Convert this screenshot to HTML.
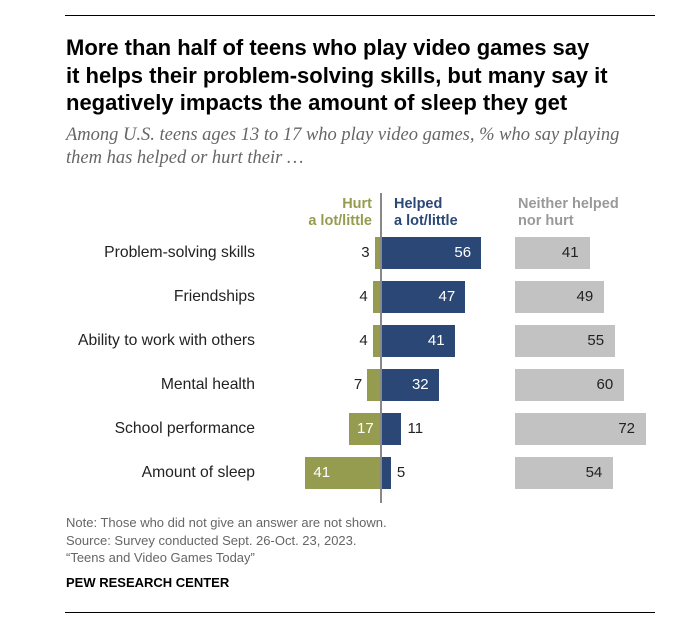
<!DOCTYPE html><html><head><style>
body{margin:0;width:690px;height:636px;background:#fff;position:relative;font-family:"Liberation Sans",sans-serif;overflow:hidden}
.a{position:absolute;white-space:nowrap}
.t{left:66px;font-weight:bold;font-size:22px;color:#000;line-height:27.5px;top:34px}
.s{left:66px;top:124px;font-style:italic;font-size:18.5px;color:#666;line-height:23px;font-family:"Liberation Serif",serif}
.l{right:435px;font-size:15.7px;color:#222;transform:translateY(-50%)}
.b{position:absolute;height:32px;font-size:15px;line-height:32px}
.n{font-size:13px;color:#666;left:66px}
</style></head><body>
<div class="a" style="left:65px;top:15px;width:590px;height:1px;background:#000"></div>
<div class="a" style="left:65px;top:612px;width:590px;height:1px;background:#000"></div>
<div class="a t">More than half of teens who play video games say<br>it helps their problem-solving skills, but many say it<br>negatively impacts the amount of sleep they get</div>
<div class="a s">Among U.S. teens ages 13 to 17 who play video games, % who say playing<br>them has helped or hurt their …</div>
<div class="a" style="right:318px;top:196px;text-align:right;font-weight:bold;font-size:14.5px;color:#959c50;line-height:17px">Hurt<br>a lot/little</div>
<div class="a" style="left:394px;top:196px;font-weight:bold;font-size:14.5px;color:#2a4775;line-height:17px">Helped<br>a lot/little</div>
<div class="a" style="left:518px;top:196px;font-weight:bold;font-size:14.5px;color:#999;line-height:17px">Neither helped<br>nor hurt</div>
<div class="a" style="left:380px;top:193px;width:2px;height:310px;background:#888;z-index:2"></div>
<div id="c"></div>
<div class="a n" style="top:514px;line-height:17.5px">Note: Those who did not give an answer are not shown.<br>Source: Survey conducted Sept. 26-Oct. 23, 2023.<br>“Teens and Video Games Today”</div>
<div class="a" style="left:66px;top:575px;font-weight:bold;font-size:13px;color:#000">PEW RESEARCH CENTER</div>
<script>
var d=[["Problem-solving skills",3,56,41],["Friendships",4,47,49],["Ability to work with others",4,41,55],["Mental health",7,32,60],["School performance",17,11,72],["Amount of sleep",41,5,54]];
var h="";d.forEach(function(r,i){var y=253+i*44,top=y-16;
h+='<div class="a l" style="top:'+y+'px">'+r[0]+'</div>';
var hw=r[1]*1.82;h+='<div class="b" style="left:'+(380-hw)+'px;top:'+top+'px;width:'+hw+'px;background:#959c50"></div>';
if(r[1]>10)h+='<div class="b" style="left:'+(380-hw+8)+'px;top:'+top+'px;color:#fff">'+r[1]+'</div>';
else h+='<div class="b" style="right:'+(690-380+hw+5)+'px;top:'+top+'px;color:#222">'+r[1]+'</div>';
var pw=r[2]*1.77;h+='<div class="b" style="left:382px;top:'+top+'px;width:'+pw+'px;background:#2a4775"></div>';
if(r[2]>20)h+='<div class="b" style="left:382px;top:'+top+'px;width:'+(pw-10)+'px;color:#fff;text-align:right">'+r[2]+'</div>';
else h+='<div class="b" style="left:'+(382+pw+6)+'px;top:'+top+'px;color:#222">'+r[2]+'</div>';
var gw=r[3]*1.82;h+='<div class="b" style="left:515px;top:'+top+'px;width:'+gw+'px;background:#c2c2c2"></div>';
h+='<div class="b" style="left:515px;top:'+top+'px;width:'+(gw-11)+'px;color:#222;text-align:right">'+r[3]+'</div>';
});document.getElementById("c").innerHTML=h;
</script></body></html>
